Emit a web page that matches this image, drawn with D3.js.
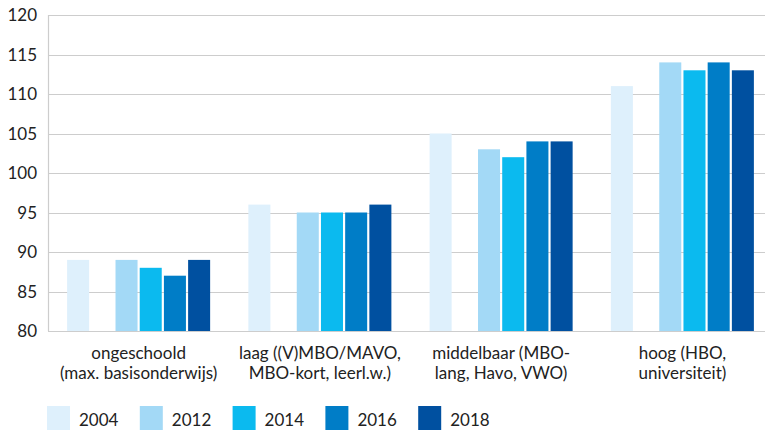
<!DOCTYPE html>
<html>
<head>
<meta charset="utf-8">
<script src="https://cdn.jsdelivr.net/npm/d3@7"></script>
<style>
  body { margin: 0; background: #fff; }
  svg { display: block; font-family: Lato, "Noto Sans", sans-serif; }
</style>
</head>
<body>
<svg id="chart-svg" width="765" height="430"></svg>
<script>
const categories = [
  ["ongeschoold", "(max. basisonderwijs)"],
  ["laag ((V)MBO/MAVO,", "MBO-kort, leerl.w.)"],
  ["middelbaar (MBO-", "lang, Havo, VWO)"],
  ["hoog (HBO,", "universiteit)"]
];
const years = ["2004", "2012", "2014", "2016", "2018"];
const v2004 = [89, 96, 105, 111];
const v2012 = [89, 95, 103, 114];
const v2014 = [88, 95, 102, 113];
const v2016 = [87, 95, 104, 114];
const v2018 = [89, 96, 104, 113];
const yTicks = [80, 85, 90, 95, 100, 105, 110, 115, 120];
const colors = ["#def0fc", "#a3d9f6", "#0bbaef", "#007dc7", "#0050a0"];

const series = [v2004, v2012, v2014, v2016, v2018];
// one empty slot between 2004 and 2012
const slots = ["2004", "gap", "2012", "2014", "2016", "2018"];

const svg = d3.select("#chart-svg");
const margin = { top: 15, left: 48 };
const plotBottom = 331;
const plotRight = 773; // plot runs a bit past the picture edge

const x = d3.scaleBand()
    .domain(d3.range(categories.length))
    .range([margin.left, plotRight]);

const xi = d3.scaleBand()
    .domain(slots)
    .range([0, x.bandwidth()])
    .paddingInner(0.09)
    .paddingOuter(0.79);

const y = d3.scaleLinear()
    .domain([80, 120])
    .range([plotBottom, margin.top]);

const color = d3.scaleOrdinal().domain(years).range(colors);

// gridlines
svg.append("g")
    .selectAll("line")
    .data(yTicks)
    .join("line")
    .attr("x1", margin.left)
    .attr("x2", 765)
    .attr("y1", d => Math.round(y(d)) + 0.5)
    .attr("y2", d => Math.round(y(d)) + 0.5)
    .attr("stroke", "#cdcdcd")
    .attr("stroke-width", 1.2);

// left axis line
svg.append("line")
    .attr("x1", margin.left + 0.5).attr("x2", margin.left + 0.5)
    .attr("y1", y(120)).attr("y2", y(80))
    .attr("stroke", "#cdcdcd")
    .attr("stroke-width", 1.2);

// y tick labels
svg.append("g")
    .selectAll("text")
    .data(yTicks)
    .join("text")
    .attr("x", 37)
    .attr("y", d => y(d) + 6)
    .attr("text-anchor", "end")
    .attr("font-size", 17)
    .attr("fill", "#222")
    .text(d => d);

// bars
const rows = [];
series.forEach((vals, s) => {
  vals.forEach((v, c) => rows.push({ year: years[s], cat: c, value: v }));
});

svg.append("g")
    .selectAll("rect")
    .data(rows)
    .join("rect")
    .attr("x", d => x(d.cat) + xi(d.year))
    .attr("y", d => y(d.value))
    .attr("width", xi.bandwidth())
    .attr("height", d => y(80) - y(d.value))
    .attr("fill", d => color(d.year));

// category labels
const lab = svg.append("g")
    .selectAll("text")
    .data(categories)
    .join("text")
    .attr("text-anchor", "middle")
    .attr("font-size", 17)
    .attr("fill", "#222");
lab.each(function(lines, i) {
  d3.select(this).selectAll("tspan")
    .data(lines)
    .join("tspan")
    .attr("x", x(i) + x.bandwidth() / 2)
    .attr("y", (d, j) => 359 + j * 20)
    .text(d => d);
});

// legend
const legend = svg.append("g")
    .selectAll("g")
    .data(years)
    .join("g")
    .attr("transform", (d, i) => `translate(${47 + i * 92.8}, 406)`);
legend.append("rect")
    .attr("width", 23)
    .attr("height", 24)
    .attr("fill", d => color(d));
legend.append("text")
    .attr("x", 32)
    .attr("y", 20)
    .attr("font-size", 17)
    .attr("fill", "#222")
    .text(d => d);
</script>
</body>
</html>
